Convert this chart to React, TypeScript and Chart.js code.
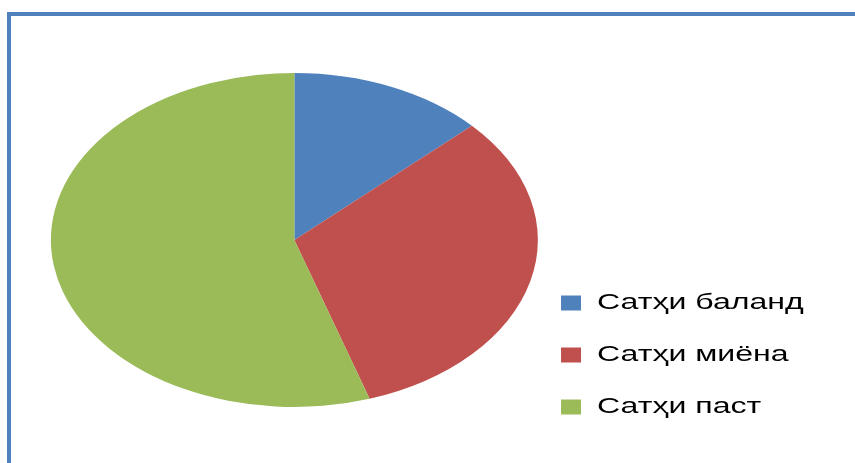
import React, { useEffect, useRef } from "react";
import { Chart, registerables } from "chart.js";

Chart.register(...registerables);

// Data
const categories: string[] = ["Сатҳи баланд", "Сатҳи миёна", "Сатҳи паст"];
const values: number[] = [13, 32, 55];
const sliceColors: string[] = ["#4F81BD", "#C0504D", "#9BBB59"];

// Horizontal stretch of the whole drawing (the reference is an anisotropically stretched chart)
const SX = 1.458;
const W = 855;
const H = 463;
const FONT_FAMILY = "'Liberation Sans', Arial, sans-serif";
const FONT_SIZE = 22;
const BOX_W = 13.7;
const LABEL_PAD = 30;
const LEGEND_LEFT = 354.8; // in unstretched units

const stretchPlugin = {
  id: "stretch",
  beforeDraw(chart: any) {
    const ctx = chart.ctx;
    ctx.save();
    ctx.scale(SX, 1);
  },
  afterDraw(chart: any) {
    chart.ctx.restore();
  },
};

export default function App() {
  const canvasRef = useRef<HTMLCanvasElement | null>(null);

  useEffect(() => {
    document.body.style.margin = "0";
    const canvas = canvasRef.current;
    if (!canvas) return;

    const mctx = document.createElement("canvas").getContext("2d") as CanvasRenderingContext2D;
    mctx.font = `${FONT_SIZE}px ${FONT_FAMILY}`;
    const textW = Math.max(...categories.map((c) => mctx.measureText(c).width));
    const legendW = LABEL_PAD + BOX_W + FONT_SIZE / 2 + textW + 10;
    const padRight = W - LEGEND_LEFT - legendW;

    const chart = new Chart(canvas, {
      type: "pie",
      data: {
        labels: categories,
        datasets: [
          {
            data: values,
            backgroundColor: sliceColors,
            borderWidth: 0,
            radius: 167,
            clip: false,
          } as any,
        ],
      },
      options: {
        animation: false,
        responsive: false,
        devicePixelRatio: 1,
        layout: {
          padding: { left: 49, top: 32, bottom: 15, right: padRight },
        },
        plugins: {
          tooltip: { enabled: false },
          legend: {
            position: "right",
            align: "end",
            labels: {
              boxWidth: BOX_W,
              boxHeight: 15,
              padding: LABEL_PAD,
              color: "#000000",
              font: { family: FONT_FAMILY, size: FONT_SIZE },
            },
          },
        },
      } as any,
      plugins: [stretchPlugin],
    });
    return () => chart.destroy();
  }, []);

  return (
    <div style={{ position: "absolute", left: 0, top: 0, width: W, height: H, overflow: "hidden", background: "#ffffff" }}>
      <div
        style={{
          position: "absolute",
          left: 7,
          top: 12,
          width: W,
          height: H,
          borderLeft: "4px solid #4F81BD",
          borderTop: "4px solid #4F81BD",
          boxSizing: "border-box",
        }}
      />
      <canvas ref={canvasRef} width={W} height={H} style={{ position: "absolute", left: 0, top: 0, width: W, height: H }} />
    </div>
  );
}
